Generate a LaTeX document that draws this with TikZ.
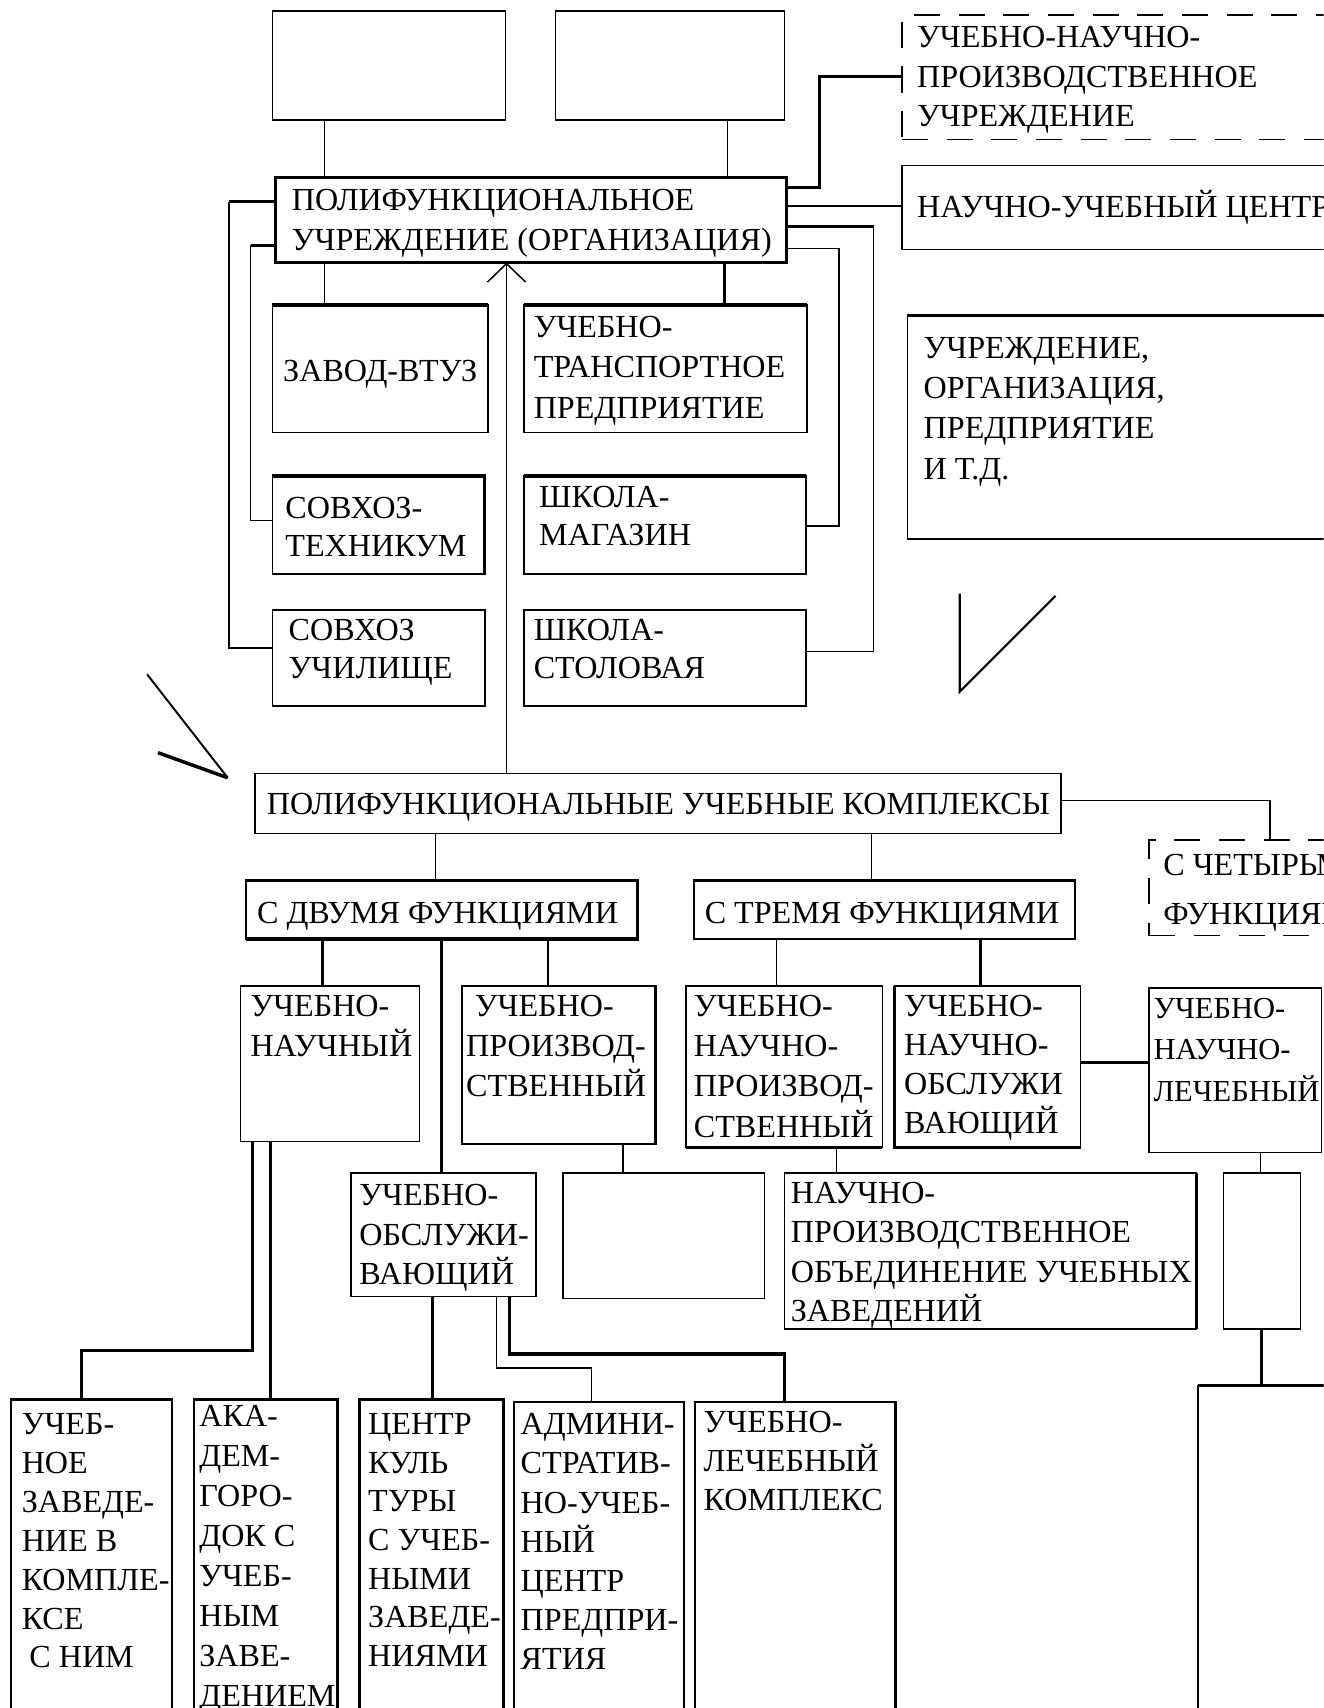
\documentclass[tikz,border=0pt]{standalone}
\usepackage{fontspec}
\setmainfont{Liberation Serif}
\usetikzlibrary{arrows.meta}

\newcommand\tfont{\fontsize{29.5}{36}\selectfont}
% multi-line label whose baseline is the first line's baseline
\newcommand\lns[2][36]{\parbox[t]{700pt}{\setlength\baselineskip{#1pt}\raggedright #2}}
% \bx[style]{x1}{y1}{x2}{y2}{name}: box by its corners
\newcommand\bx[6][]{\node[box,#1,minimum width={(#4-#2)*1pt},minimum height={(#5-#3)*1pt}] (#6) at (#2,#3) {};}

\tikzset{
  box/.style={draw, line width=1.4pt, inner sep=0pt, outer sep=0pt, anchor=north west},
  dbox/.style={box, dash pattern=on 24pt off 17pt},
  heavy/.style={line width=2.8pt},
  link/.style={line width=1.4pt},
  blink/.style={line width=2.8pt},
  txt/.style={inner sep=0pt, outer sep=0pt, anchor=base west, font=\tfont},
}

\begin{document}
\begin{tikzpicture}[x=1pt, y=-1pt]
\useasboundingbox (0,0) rectangle (1215,1568);
\clip (0,0) rectangle (1215,1568);

% ---------- upper block ----------
\bx{250}{10}{464}{110}{boxA}
\bx{510}{10}{720}{110}{boxB}
\bx[dbox]{828}{14}{1260}{128}{dashUNP}
\bx{828}{152}{1260}{229}{nuc}
\bx[heavy]{253}{163}{722}{241}{main}
\bx{250}{280}{448}{397}{zavod}
\bx{481}{280}{741}{397}{transp}
\bx{250}{437}{445}{527}{sovtech}
\bx{481}{437}{740}{527}{magazin}
\bx{250}{560}{445}{648}{sovuch}
\bx{481}{560}{740}{648}{stolov}
\bx{833}{290}{1260}{495}{uchr}

\draw[heavy] (zavod.north west) -- (zavod.north east);
\draw[heavy] (transp.north west) -- (transp.north east);
\draw[heavy] (sovtech.north west) -- (sovtech.north east) -- (sovtech.south east);
\draw[heavy] (magazin.north west) -- (magazin.north east);
\draw[heavy] (uchr.north west) -- (uchr.north east);

\node[txt] (dashUNP-t) at (842,44) {\lns{УЧЕБНО-НАУЧНО-\\ПРОИЗВОДСТВЕННОЕ\\УЧРЕЖДЕНИЕ}};
\node[txt] (nuc-t) at (842,200) {НАУЧНО-УЧЕБНЫЙ ЦЕНТР};
\node[txt] (main-t) at (268,193) {\lns[37]{ПОЛИФУНКЦИОНАЛЬНОЕ\\УЧРЕЖДЕНИЕ (ОРГАНИЗАЦИЯ)}};
\node[txt] (zavod-t) at (260,350) {ЗАВОД-ВТУЗ};
\node[txt] (transp-t) at (490,310) {\lns[37]{УЧЕБНО-\\ТРАНСПОРТНОЕ\\ПРЕДПРИЯТИЕ}};
\node[txt] (sovtech-t) at (262,476) {\lns[35]{СОВХОЗ-\\ТЕХНИКУМ}};
\node[txt] (magazin-t) at (495,466) {\lns[35]{ШКОЛА-\\МАГАЗИН}};
\node[txt] (sovuch-t) at (265,588) {\lns[35]{СОВХОЗ\\УЧИЛИЩЕ}};
\node[txt] (stolov-t) at (490,588) {\lns[35]{ШКОЛА-\\СТОЛОВАЯ}};
\node[txt] (uchr-t) at (848,329) {\lns[37]{УЧРЕЖДЕНИЕ,\\ОРГАНИЗАЦИЯ,\\ПРЕДПРИЯТИЕ\\И Т.Д.}};

% connectors of the upper block
\draw[link] ([xshift=48pt]boxA.south west) coordinate (a1) -- (a1 |- main.north);
\draw[link] ([xshift=158pt]boxB.south west) coordinate (a2) -- (a2 |- main.north);
\coordinate (k1) at (752,70);
\draw[blink] ([yshift=-9pt]main.north east) -| (k1) -- (k1 -| dashUNP.west);
\draw[link] ([yshift=-26pt]main.north east) coordinate (m2) -- (m2 -| nuc.west);
\coordinate (k2) at (802,598);
\draw[blink] ([yshift=-45pt]main.north east) -- ([yshift=-45pt]main.north east -| k2);
\draw[link] ([yshift=-45pt]main.north east -| k2) -- (k2) -- (k2 -| stolov.east);
\coordinate (k3) at (770,483);
\draw[link] ([yshift=-65pt]main.north east) -| (k3) -- (k3 -| magazin.east);
\coordinate (k4) at (210,595);
\draw[blink] ([yshift=-22pt]main.north west) -- ([yshift=-22pt]main.north west -| k4);
\draw[link] ([yshift=-22pt]main.north west -| k4) -- (k4) -- (k4 -| sovuch.west);
\coordinate (k5) at (230,478);
\draw[blink] ([yshift=-62pt]main.north west) -- ([yshift=-62pt]main.north west -| k5);
\draw[link] ([yshift=-62pt]main.north west -| k5) -- (k5) -- (k5 -| sovtech.west);
\draw[link] ([xshift=45pt]main.south west) coordinate (m3) -- (m3 |- zavod.north);
\draw[blink] ([xshift=412pt]main.south west) coordinate (m4) -- (m4 |- transp.north);

% hand-drawn marks
\draw[line width=1.8pt] (135,619) -- (209,714);
\draw[line width=3.2pt] (145,691) -- (209,714);
\draw[line width=2pt] (881,545) -- (881,635) -- (969,547);

% ---------- lower block ----------
\bx{234}{710}{974}{765}{pk}
\bx[dbox]{1055}{771}{1260}{859}{four}
\bx{226}{808}{585}{862}{two}
\bx{637}{808}{987}{862}{three}
\draw[heavy] (two.north west) -- (two.north east) -- (two.south east) -- (two.south west);
\draw[heavy] (three.north west) -- (three.north east);

\node[txt] (pk-t) at (245,748) {ПОЛИФУНКЦИОНАЛЬНЫЕ УЧЕБНЫЕ КОМПЛЕКСЫ};
\node[txt] (four-t) at (1068,804) {\lns[45]{С ЧЕТЫРЬМЯ\\ФУНКЦИЯМИ}};
\node[txt] (two-t) at (236,848) {С ДВУМЯ ФУНКЦИЯМИ};
\node[txt] (three-t) at (647,848) {С ТРЕМЯ ФУНКЦИЯМИ};

\draw[link, -{Straight Barb[length=17pt,width=35pt,line width=1.4pt]}]
  ([xshift=231pt]pk.north west) coordinate (p0) -- (p0 |- main.south);
\draw[link] ([xshift=166pt]pk.south west) coordinate (p1) -- (p1 |- two.north);
\draw[link] ([xshift=566pt]pk.south west) coordinate (p2) -- (p2 |- three.north);
\coordinate (k6) at (1166,735);
\draw[link] (pk.east |- k6) -- (k6) -- (k6 |- four.north);

\bx{221}{905}{385}{1048}{un}
\bx{424}{905}{602}{1050}{up}
\bx{630}{905}{810}{1053}{unp}
\bx{821}{905}{992}{1053}{uno}
\bx{1055}{907}{1213}{1058}{unl}
\draw[heavy] (up.north east) -- (up.south east);
\draw[heavy] (unp.south west) -- (unp.south east);
\draw[heavy] (uno.north west) -- (uno.south west) -- (uno.south east);

\node[txt] (un-t) at (230,933) {\lns[37]{УЧЕБНО-\\НАУЧНЫЙ}};
\node[txt] (up-t) at (428,933) {\lns[37]{\hspace{8pt}УЧЕБНО-\\ПРОИЗВОД-\\СТВЕННЫЙ}};
\node[txt] (unp-t) at (637,933) {\lns[37]{УЧЕБНО-\\НАУЧНО-\\ПРОИЗВОД-\\СТВЕННЫЙ}};
\node[txt] (uno-t) at (830,933) {\lns[36]{УЧЕБНО-\\НАУЧНО-\\ОБСЛУЖИ\\ВАЮЩИЙ}};
\node[txt, font=\fontsize{28}{36}\selectfont] (unl-t) at (1059,935) {\lns[38]{УЧЕБНО-\\НАУЧНО-\\ЛЕЧЕБНЫЙ}};

\draw[blink] ([xshift=70pt]two.south west) coordinate (t1) -- (t1 |- un.north);
\draw[link] ([xshift=277pt]two.south west) coordinate (t3) -- (t3 |- up.north);
\draw[link] ([xshift=76pt]three.south west) coordinate (t4) -- (t4 |- unp.north);
\draw[blink] ([xshift=263pt]three.south west) coordinate (t5) -- (t5 |- uno.north);
\draw[blink] ([yshift=-70pt]uno.north east) coordinate (t6) -- (t6 -| unl.west);

\bx{322}{1077}{492}{1190}{uo}
\bx{517}{1077}{702}{1192}{empty1}
\bx{720}{1077}{1098}{1220}{npo}
\bx{1123}{1077}{1194}{1220}{small}
\bx{1100}{1272}{1260}{1620}{bigR}
\draw[heavy] (npo.north east) -- (npo.south east);
\draw[heavy] (bigR.north west) -- (bigR.north east);

\node[txt] (uo-t) at (330,1107) {\lns[36]{УЧЕБНО-\\ОБСЛУЖИ-\\ВАЮЩИЙ}};
\node[txt] (npo-t) at (726,1105) {\lns[36]{НАУЧНО-\\ПРОИЗВОДСТВЕННОЕ\\ОБЪЕДИНЕНИЕ УЧЕБНЫХ\\ЗАВЕДЕНИЙ}};

\draw[blink] ([xshift=179pt]two.south west) coordinate (t2) -- (t2 |- uo.north);
\draw[link] ([xshift=148pt]up.south west) coordinate (u1) -- (u1 |- empty1.north);
\draw[link] ([xshift=138pt]unp.south west) coordinate (u2) -- (u2 |- npo.north);
\draw[link] ([xshift=102pt]unl.south west) coordinate (u3) -- (u3 |- small.north);
\draw[blink] (small.south) -- (small.south |- bigR.north);

% ---------- bottom row ----------
\bx{10}{1285}{158}{1620}{b1}
\bx{178}{1285}{310}{1620}{b2}
\bx{330}{1285}{462}{1620}{b3}
\bx{472}{1287}{628}{1620}{b4}
\bx{638}{1287}{822}{1620}{b5}
\foreach \n in {b1,b2,b3,b4,b5}
  \draw[line width=2.4pt] (\n.south west) -- (\n.north west) -- (\n.north east) -- (\n.south east);

\node[txt] (b1-t) at (20,1317) {\lns[35.7]{УЧЕБ-\\НОЕ\\ЗАВЕДЕ-\\НИЕ В\\КОМПЛЕ-\\КСЕ\\\hspace{7pt}С НИМ}};
\node[txt] (b2-t) at (183,1310) {\lns[36.7]{АКА-\\ДЕМ-\\ГОРО-\\ДОК С\\УЧЕБ-\\НЫМ\\ЗАВЕ-\\ДЕНИЕМ}};
\node[txt] (b3-t) at (338,1317) {\lns[35.5]{ЦЕНТР\\КУЛЬ\\ТУРЫ\\С УЧЕБ-\\НЫМИ\\ЗАВЕДЕ-\\НИЯМИ}};
\node[txt] (b4-t) at (478,1317) {\lns[36]{АДМИНИ-\\СТРАТИВ-\\НО-УЧЕБ-\\НЫЙ\\ЦЕНТР\\ПРЕДПРИ-\\ЯТИЯ}};
\node[txt] (b5-t) at (646,1315) {\lns[36]{УЧЕБНО-\\ЛЕЧЕБНЫЙ\\КОМПЛЕКС}};

\coordinate (k7) at (75,1240);
\draw[blink] ([xshift=11pt]un.south west) |- (k7) -- (k7 |- b1.north);
\draw[blink] ([xshift=27pt]un.south west) coordinate (v1) -- (v1 |- b2.north);
\draw[blink] ([xshift=75pt]uo.south west) coordinate (v2) -- (v2 |- b3.north);
\coordinate (k8) at (543,1256);
\draw[link] ([xshift=134pt]uo.south west) |- (k8) -- (k8 |- b4.north);
\coordinate (k9) at (720,1243);
\draw[blink] ([xshift=146pt]uo.south west) |- (k9) -- (k9 |- b5.north);
\end{tikzpicture}
\end{document}
